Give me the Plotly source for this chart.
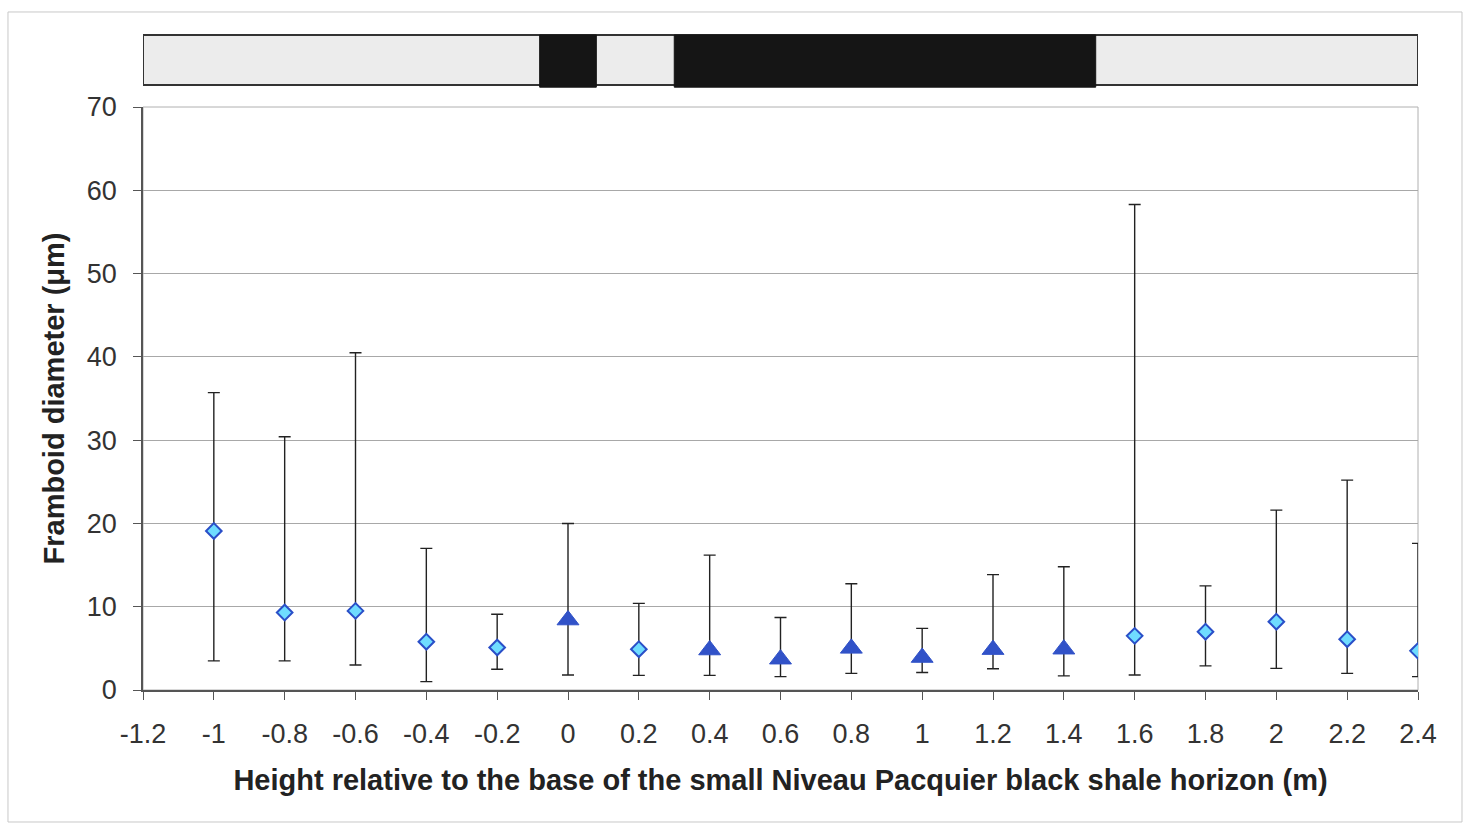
import plotly.graph_objects as go

# ---- data ----
diamond_x = [-1.0, -0.8, -0.6, -0.4, -0.2, 0.2, 1.6, 1.8, 2.0, 2.2, 2.4]
diamond_mean = [19.1, 9.3, 9.5, 5.8, 5.1, 4.9, 6.5, 7.0, 8.2, 6.1, 4.7]
diamond_max = [35.7, 30.4, 40.5, 17.0, 9.1, 10.4, 58.3, 12.5, 21.6, 25.2, 17.6]
diamond_min = [3.5, 3.5, 3.0, 1.0, 2.5, 1.75, 1.8, 2.9, 2.6, 2.0, 1.6]

triangle_x = [0.0, 0.4, 0.6, 0.8, 1.0, 1.2, 1.4]
triangle_mean = [8.4, 4.8, 3.7, 5.0, 3.9, 4.85, 4.9]
triangle_max = [20.0, 16.2, 8.7, 12.75, 7.4, 13.85, 14.8]
triangle_min = [1.8, 1.75, 1.6, 2.0, 2.1, 2.55, 1.7]

x_tickvals = [-1.2, -1.0, -0.8, -0.6, -0.4, -0.2, 0.0, 0.2, 0.4, 0.6, 0.8, 1.0, 1.2, 1.4, 1.6, 1.8, 2.0, 2.2, 2.4]
x_ticktext = ["-1.2", "-1", "-0.8", "-0.6", "-0.4", "-0.2", "0", "0.2", "0.4", "0.6", "0.8", "1", "1.2", "1.4", "1.6", "1.8", "2", "2.2", "2.4"]
y_tickvals = [0, 10, 20, 30, 40, 50, 60, 70]

# lithology log: black shale intervals (m)
log_extent = [-1.2, 2.4]
black_shale_intervals = [(-0.08, 0.08), (0.3, 1.49)]

FONT = "Liberation Sans, Arial, sans-serif"

fig = go.Figure()

err_style = dict(type="data", symmetric=False, color="#222222", thickness=1.4, width=6)

fig.add_trace(go.Scatter(
    x=diamond_x, y=diamond_mean, mode="markers",
    marker=dict(symbol="diamond", size=12, color="#6fdcff",
                line=dict(color="#2a4fc8", width=2)),
    error_y=dict(array=[mx - m for mx, m in zip(diamond_max, diamond_mean)],
                 arrayminus=[m - mn for m, mn in zip(diamond_mean, diamond_min)],
                 **err_style),
    showlegend=False,
))

fig.add_trace(go.Scatter(
    x=triangle_x, y=triangle_mean, mode="markers",
    marker=dict(symbol="triangle-up", size=19, color="#3152c8",
                line=dict(color="#3152c8", width=1)),
    error_y=dict(array=[mx - m for mx, m in zip(triangle_max, triangle_mean)],
                 arrayminus=[m - mn for m, mn in zip(triangle_mean, triangle_min)],
                 **err_style),
    showlegend=False,
))

shapes = []
# outer chart border
shapes.append(dict(type="rect", xref="paper", yref="paper",
                   x0=-0.1059, x1=1.0345, y0=-0.2264, y1=1.163,
                   line=dict(color="#c8c8c8", width=1), fillcolor="rgba(0,0,0,0)", layer="below"))
# plot area border (right side grey)
shapes.append(dict(type="rect", xref="paper", yref="paper",
                   x0=0, x1=1, y0=0, y1=1,
                   line=dict(color="#b0b0b0", width=1), fillcolor="rgba(0,0,0,0)", layer="below"))
# lithology bar
shapes.append(dict(type="rect", xref="x", yref="paper",
                   x0=log_extent[0], x1=log_extent[1], y0=1.0377, y1=1.1235,
                   line=dict(color="#333333", width=2), fillcolor="#ececec"))
for a, b in black_shale_intervals:
    shapes.append(dict(type="rect", xref="x", yref="paper",
                       x0=a, x1=b, y0=1.034, y1=1.1235,
                       line=dict(color="#151515", width=1), fillcolor="#151515"))

fig.update_layout(
    width=1464, height=825,
    margin=dict(l=143, r=46, t=107, b=135, autoexpand=False),
    paper_bgcolor="white", plot_bgcolor="white",
    font=dict(family=FONT, color="#333333", size=27),
    shapes=shapes,
    xaxis=dict(
        range=[-1.2, 2.4], tickvals=x_tickvals, ticktext=x_ticktext,
        showgrid=False, zeroline=False,
        showline=True, linecolor="#555555", linewidth=1.5,
        ticks="outside", ticklen=8, tickcolor="#555555", tickwidth=1,
        tickfont=dict(size=27, color="#333333"),
        ticklabelstandoff=11,
        title=dict(text="<b>Height relative to the base of the small Niveau Pacquier black shale horizon (m)</b>",
                   font=dict(size=29, color="#222222"), standoff=22),
    ),
    yaxis=dict(
        range=[0, 70], tickvals=y_tickvals,
        showgrid=True, gridcolor="#a8a8a8", gridwidth=1, zeroline=False,
        showline=True, linecolor="#555555", linewidth=1.5,
        ticks="outside", ticklen=8, tickcolor="#555555", tickwidth=1,
        tickfont=dict(size=27, color="#333333"),
        ticklabelstandoff=11,
        title=dict(text="<b>Framboid diameter (μm)</b>",
                   font=dict(size=29, color="#222222"), standoff=14),
    ),
)

fig.write_html("out.html")
